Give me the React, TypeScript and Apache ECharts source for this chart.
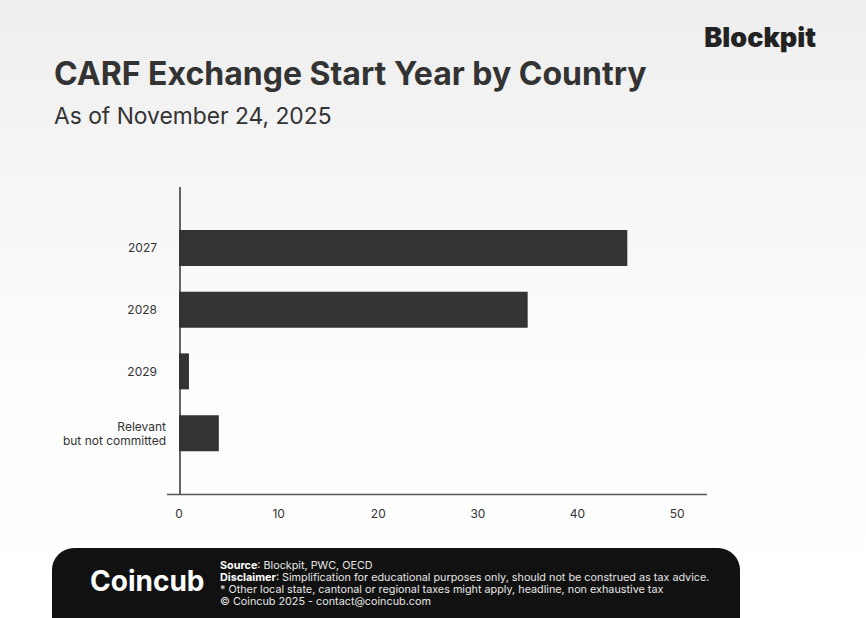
import React, { useEffect, useRef } from "react";
import * as echarts from "echarts";

const categories = ["2027", "2028", "2029", "Relevant\nbut not committed"];
const values = [45, 35, 1, 4];
const xTicks = [0, 10, 20, 30, 40, 50];

const FONT = "Inter, 'Noto Sans', sans-serif";

export default function App() {
  const ref = useRef<HTMLDivElement>(null);
  useEffect(() => {
    if (!ref.current) return;
    const chart = echarts.init(ref.current, null, { renderer: "svg" });
    chart.setOption({
      animation: false,
      backgroundColor: {
        type: "linear",
        x: 0, y: 0, x2: 0, y2: 1,
        colorStops: [
          { offset: 0, color: "#eeeeee" },
          { offset: 0.55, color: "#fcfcfc" },
          { offset: 1, color: "#ffffff" },
        ],
      },
      grid: { left: 179, right: 159, top: 217, bottom: 154, containLabel: false },
      xAxis: {
        type: "value",
        min: 0,
        max: 53,
        interval: 10,
        offset: 30,
        axisLine: { show: false },
        axisTick: { show: false },
        splitLine: { show: false },
        axisLabel: {
          color: "#333",
          fontFamily: FONT,
          fontSize: 12,
          margin: 13,
          formatter: (v: number) => (xTicks.includes(v) ? String(v) : ""),
        },
      },
      yAxis: {
        type: "category",
        inverse: true,
        data: categories,
        axisLine: { show: false },
        axisTick: { show: false },
        axisLabel: {
          color: "#333",
          fontFamily: FONT,
          fontSize: 12,
          lineHeight: 14,
          margin: 13,
          align: "right",
          formatter: (v: string) => (v.includes("\n") ? v : "{y|" + v + "}"),
          rich: {
            y: { color: "#333", fontFamily: FONT, fontSize: 12, padding: [0, 9, 0, 0] },
          },
        },
      },
      series: [
        {
          type: "bar",
          data: values,
          barWidth: 36,
          itemStyle: { color: "#333333" },
        },
      ],
      graphic: [
        { type: "line", shape: { x1: 180, y1: 187, x2: 180, y2: 494 }, style: { stroke: "#333", lineWidth: 1.5 } },
        { type: "line", shape: { x1: 167, y1: 494.5, x2: 707, y2: 494.5 }, style: { stroke: "#555", lineWidth: 1.5 } },
        {
          type: "text",
          left: 54,
          top: 57,
          style: { text: "CARF Exchange Start Year by Country", fontFamily: FONT, fontSize: 32, fontWeight: "bold", fill: "#333" },
        },
        {
          type: "text",
          left: 54,
          top: 104,
          style: { text: "As of November 24, 2025", fontFamily: FONT, fontSize: 22.8, fill: "#333" },
        },
        {
          type: "text",
          right: 50,
          top: 24,
          style: { text: "Blockpit", fontFamily: FONT, fontSize: 27, fontWeight: 900, fill: "#222" },
        },
        {
          type: "rect",
          shape: { x: 52, y: 548, width: 688, height: 100, r: 22 },
          style: { fill: "#111111" },
        },
        {
          type: "text",
          left: 90,
          top: 567,
          style: { text: "Coincub", fontFamily: FONT, fontSize: 28, fontWeight: "bold", fill: "#ffffff" },
        },
        {
          type: "text",
          left: 220,
          top: 559,
          style: {
            text:
              "{b|Source}: Blockpit, PWC, OECD\n{b|Disclaimer}: Simplification for educational purposes only, should not be construed as tax advice.\n* Other local state, cantonal or regional taxes might apply, headline, non exhaustive tax\n© Coincub 2025 - contact@coincub.com",
            fontFamily: FONT,
            fontSize: 10.8,
            lineHeight: 12.2,
            fill: "#e6e6e6",
            rich: {
              b: { fontFamily: FONT, fontSize: 10.8, fontWeight: "bold", fill: "#ffffff", lineHeight: 12.2 },
            },
          },
        },
      ],
    });
    return () => chart.dispose();
  }, []);
  return (
    <div
      ref={ref}
      style={{ position: "absolute", left: 0, top: 0, width: 866, height: 618 }}
    />
  );
}
